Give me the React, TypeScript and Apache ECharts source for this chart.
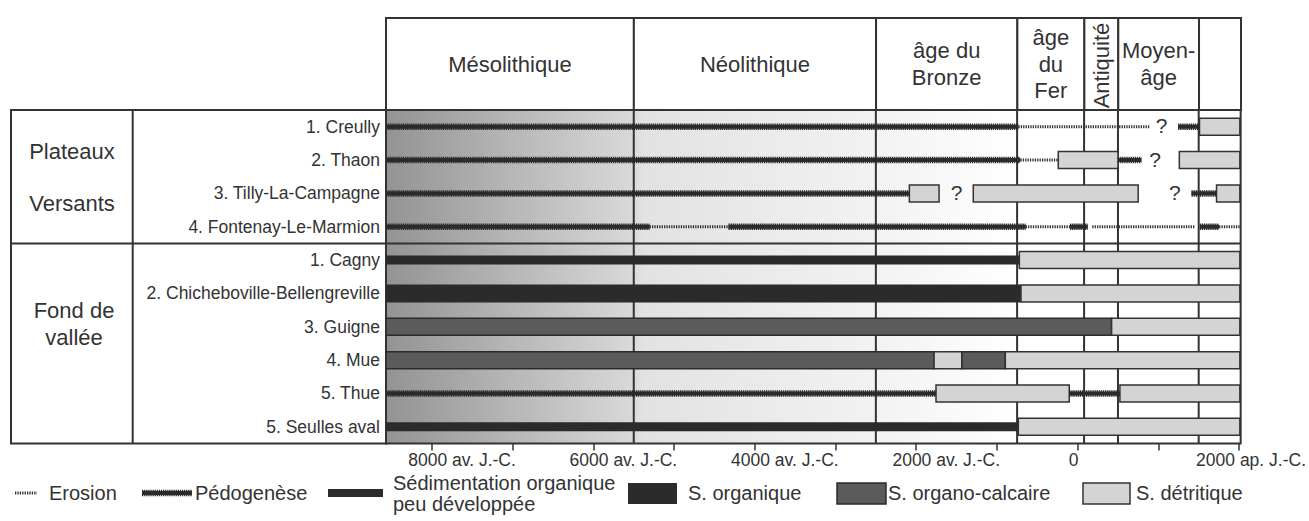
import React, { useEffect, useRef } from "react";
import * as echarts from "echarts";

// ---------- data ----------
const sites = [
  "1. Creully",
  "2. Thaon",
  "3. Tilly-La-Campagne",
  "4. Fontenay-Le-Marmion",
  "1. Cagny",
  "2. Chicheboville-Bellengreville",
  "3. Guigne",
  "4. Mue",
  "5. Thue",
  "5. Seulles aval",
];
const sectionBreaks = ["4. Fontenay-Le-Marmion"];
const groupLabels = ["Plateaux", "Versants", "Fond de\nvallée"];

const periodNames = ["Mésolithique", "Néolithique", "âge du\nBronze", "âge\ndu\nFer", "Antiquité", "Moyen-\nâge", ""];
const periodStarts = [-8570, -5500, -2500, -750, 80, 500, 1500];
const verticalPeriods = ["Antiquité"];
const axisMin = -8570;
const axisMax = 2020;

const tickYears = [-8000, -7000, -6000, -5000, -4000, -3000, -2000, -1000, 0, 1000, 2000];
const labelYears = [-8000, -6000, -4000, -2000, 0, 2000];
const tickLabels = ["8000 av. J.-C.", "6000 av. J.-C.", "4000 av. J.-C.", "2000 av. J.-C.", "0", "2000 ap. J.-C."];

type Seg = [string, number, number];
const erosionSegments: Seg[] = [
  ["1. Creully", -735, 900],
  ["2. Thaon", -710, -240],
  ["4. Fontenay-Le-Marmion", -5304, -4326],
  ["4. Fontenay-Le-Marmion", -644, -95],
  ["4. Fontenay-Le-Marmion", 181, 1452],
  ["4. Fontenay-Le-Marmion", 1753, 2010],
];
const pedogeneseSegments: Seg[] = [
  ["1. Creully", -8570, -735],
  ["1. Creully", 1245, 1510],
  ["2. Thaon", -8570, -710],
  ["2. Thaon", 500, 790],
  ["3. Tilly-La-Campagne", -8570, -2085],
  ["3. Tilly-La-Campagne", 1411, 1721],
  ["4. Fontenay-Le-Marmion", -8570, -5304],
  ["4. Fontenay-Le-Marmion", -4326, -644],
  ["4. Fontenay-Le-Marmion", -95, 124],
  ["4. Fontenay-Le-Marmion", 1514, 1753],
  ["5. Thue", -8570, -1755],
  ["5. Thue", -104, 524],
];
const sedOrgThinSegments: Seg[] = [
  ["1. Cagny", -8570, -722],
  ["5. Seulles aval", -8570, -735],
];
const sedOrgSegments: Seg[] = [["2. Chicheboville-Bellengreville", -8570, -702]];
const sedOrgCalcSegments: Seg[] = [
  ["3. Guigne", -8570, 421],
  ["4. Mue", -8570, -1779],
  ["4. Mue", -1436, -896],
];
const sedDetrSegments: Seg[] = [
  ["1. Creully", 1510, 2010],
  ["2. Thaon", -240, 500],
  ["2. Thaon", 1260, 2010],
  ["3. Tilly-La-Campagne", -2085, -1717],
  ["3. Tilly-La-Campagne", -1293, 750],
  ["3. Tilly-La-Campagne", 1721, 2010],
  ["1. Cagny", -722, 2010],
  ["2. Chicheboville-Bellengreville", -702, 2010],
  ["3. Guigne", 421, 2010],
  ["4. Mue", -1779, -1436],
  ["4. Mue", -896, 2010],
  ["5. Thue", -1755, -104],
  ["5. Thue", 524, 2010],
  ["5. Seulles aval", -735, 2010],
];
const questionMarks: [string, number][] = [
  ["1. Creully", 1040],
  ["2. Thaon", 960],
  ["3. Tilly-La-Campagne", -1500],
  ["3. Tilly-La-Campagne", 1205],
];
const questionText = "?";
const legendLabels = [
  "Erosion",
  "Pédogenèse",
  "Sédimentation organique\npeu développée",
  "S. organique",
  "S. organo-calcaire",
  "S. détritique",
];

// ---------- styles / layout ----------
const FONT = '"Liberation Sans", Arial, Helvetica, sans-serif';
const INK = "#333333";
const DARK = "#2b2b2b";
const CALC = "#5b5b5b";
const DETR = "#d4d4d4";
const GRID_LEFT = 386;
const GRID_W = 855;
const HEAD_TOP = 18;
const HEAD_H = 92;
const PLOT_TOP = 110;
const PLOT_H = 333.5;
const TABLE_LEFT = 11;
const TABLE_SPLIT = 132.7;
const LEG_Y = 493;

const idx = (s: string) => sites.indexOf(s);
const toData = (arr: Seg[]) => arr.map(([s, a, b]) => [idx(s), a, b]);

function rectRenderer(h: number, style: any) {
  return (params: any, api: any) => {
    const r = api.value(0);
    const p1 = api.coord([api.value(1), r]);
    const p2 = api.coord([api.value(2), r]);
    return {
      type: "rect",
      shape: { x: p1[0], y: p1[1] - h / 2, width: p2[0] - p1[0], height: h },
      style,
    };
  };
}

function pedoShapes(x1: number, x2: number, y: number) {
  return [
    { type: "line", shape: { x1, y1: y, x2, y2: y }, style: { stroke: DARK, lineWidth: 4 } },
    {
      type: "line",
      shape: { x1, y1: y, x2, y2: y },
      style: { stroke: DARK, lineWidth: 6.5, lineDash: [1.3, 0.8] },
    },
  ];
}

function buildOption(): any {
  const dividerY =
    PLOT_TOP + (PLOT_H * (idx(sectionBreaks[0]) + 1)) / sites.length;
  const periodEnds = periodStarts.slice(1).concat([axisMax]);

  const legend: any[] = [];
  legend.push({
    type: "line",
    shape: { x1: 15, y1: LEG_Y, x2: 37, y2: LEG_Y },
    style: { stroke: "#333", lineWidth: 3, lineDash: [1.3, 1.1] },
  });
  legend.push({ type: "text", x: 49, y: LEG_Y, style: { text: legendLabels[0], fontSize: 20, fontFamily: FONT, fill: INK, verticalAlign: "middle" } });
  legend.push(...pedoShapes(142, 192, LEG_Y));
  legend.push({ type: "text", x: 195, y: LEG_Y, style: { text: legendLabels[1], fontSize: 20, fontFamily: FONT, fill: INK, verticalAlign: "middle" } });
  legend.push({ type: "rect", shape: { x: 328, y: LEG_Y - 4, width: 55, height: 8 }, style: { fill: DARK } });
  legend.push({ type: "text", x: 393, y: LEG_Y, style: { text: legendLabels[2], fontSize: 20, lineHeight: 21, fontFamily: FONT, fill: INK, verticalAlign: "middle" } });
  legend.push({ type: "rect", shape: { x: 628, y: LEG_Y - 10, width: 49, height: 21 }, style: { fill: DARK } });
  legend.push({ type: "text", x: 688, y: LEG_Y, style: { text: legendLabels[3], fontSize: 20, fontFamily: FONT, fill: INK, verticalAlign: "middle" } });
  legend.push({ type: "rect", shape: { x: 837, y: LEG_Y - 10, width: 49, height: 21 }, style: { fill: CALC, stroke: DARK, lineWidth: 1.5 } });
  legend.push({ type: "text", x: 888, y: LEG_Y, style: { text: legendLabels[4], fontSize: 20, fontFamily: FONT, fill: INK, verticalAlign: "middle" } });
  legend.push({ type: "rect", shape: { x: 1083, y: LEG_Y - 10, width: 47, height: 21 }, style: { fill: DETR, stroke: INK, lineWidth: 1.5 } });
  legend.push({ type: "text", x: 1136, y: LEG_Y, style: { text: legendLabels[5], fontSize: 20, fontFamily: FONT, fill: INK, verticalAlign: "middle" } });

  const table: any[] = [
    { type: "rect", shape: { x: TABLE_LEFT, y: PLOT_TOP, width: GRID_LEFT - TABLE_LEFT, height: PLOT_H }, style: { fill: "none", stroke: INK, lineWidth: 2 } },
    { type: "line", shape: { x1: TABLE_SPLIT, y1: PLOT_TOP, x2: TABLE_SPLIT, y2: PLOT_TOP + PLOT_H }, style: { stroke: INK, lineWidth: 2 } },
    { type: "line", shape: { x1: TABLE_LEFT, y1: dividerY, x2: GRID_LEFT, y2: dividerY }, style: { stroke: INK, lineWidth: 2 } },
    { type: "text", x: 72, y: 151, style: { text: groupLabels[0], fontSize: 22, fontFamily: FONT, fill: INK, align: "center", verticalAlign: "middle" } },
    { type: "text", x: 72, y: 203, style: { text: groupLabels[1], fontSize: 22, fontFamily: FONT, fill: INK, align: "center", verticalAlign: "middle" } },
    { type: "text", x: 74, y: 324, style: { text: groupLabels[2], fontSize: 22, lineHeight: 26.6, fontFamily: FONT, fill: INK, align: "center", verticalAlign: "middle" } },
  ];

  const rich = {
    av: { fontSize: 17.5, fontFamily: FONT, color: INK, padding: [0, 0, 0, 60] },
    zero: { fontSize: 17.5, fontFamily: FONT, color: INK, padding: [0, 8, 0, 0] },
    ap: { fontSize: 17.5, fontFamily: FONT, color: INK, padding: [0, 0, 0, 24] },
  };

  return {
    animation: false,
    backgroundColor: "#ffffff",
    textStyle: { fontFamily: FONT },
    grid: [
      { left: GRID_LEFT, top: HEAD_TOP, width: GRID_W, height: HEAD_H, show: false },
      {
        left: GRID_LEFT,
        top: PLOT_TOP,
        width: GRID_W,
        height: PLOT_H,
        show: true,
        borderColor: INK,
        borderWidth: 2,
        backgroundColor: new echarts.graphic.LinearGradient(0, 0, 1, 0, [
          { offset: 0, color: "#939393" },
          { offset: 0.29, color: "#d9d9d9" },
          { offset: 0.3, color: "#e2e2e2" },
          { offset: 0.571, color: "#f2f2f2" },
          { offset: 0.74, color: "#ffffff" },
          { offset: 1, color: "#ffffff" },
        ]),
      },
    ],
    xAxis: [
      { gridIndex: 0, type: "value", min: axisMin, max: axisMax, show: false },
      {
        gridIndex: 1,
        type: "value",
        min: axisMin,
        max: axisMax,
        axisLine: { show: false },
        splitLine: { show: false },
        axisTick: {
          show: true,
          customValues: tickYears,
          length: 7,
          lineStyle: { color: INK, width: 1.5 },
        },
        axisLabel: {
          customValues: labelYears,
          margin: 7,
          color: INK,
          fontSize: 17.5,
          fontFamily: FONT,
          formatter: (v: number) => {
            const i = labelYears.indexOf(v);
            if (i < 0) return "";
            const k = v < 0 ? "av" : v === 0 ? "zero" : "ap";
            return `{${k}|${tickLabels[i]}}`;
          },
          rich,
        },
      },
    ],
    yAxis: [
      { gridIndex: 0, type: "value", min: 0, max: 1, show: false },
      {
        gridIndex: 1,
        type: "category",
        data: sites,
        inverse: true,
        axisLine: { show: false },
        axisTick: { show: false },
        splitLine: { show: false },
        axisLabel: { color: INK, fontSize: 17.5, fontFamily: FONT, margin: 6 },
      },
    ],
    graphic: { elements: [...table, ...legend] },
    series: [
      {
        name: "périodes",
        type: "custom",
        xAxisIndex: 0,
        yAxisIndex: 0,
        encode: { x: [0, 1], y: 3 },
        data: periodStarts.map((s, i) => [s, periodEnds[i], i, 0.5]),
        renderItem: (params: any, api: any) => {
          const cs = params.coordSys;
          const x1 = api.coord([api.value(0), 0])[0];
          const x2 = api.coord([api.value(1), 0])[0];
          const name = periodNames[api.value(2)];
          const vertical = verticalPeriods.indexOf(name) >= 0;
          return {
            type: "group",
            children: [
              { type: "rect", shape: { x: x1, y: cs.y, width: x2 - x1, height: cs.height }, style: { fill: "#fff", stroke: INK, lineWidth: 2 } },
              {
                type: "text",
                x: (x1 + x2) / 2,
                y: cs.y + cs.height / 2 + (vertical ? 1.5 : 0),
                rotation: vertical ? Math.PI / 2 : 0,
                style: { text: name, fontSize: 22, lineHeight: 26.7, fontFamily: FONT, fill: INK, align: "center", verticalAlign: "middle" },
              },
            ],
          };
        },
      },
      {
        name: "limites",
        type: "custom",
        xAxisIndex: 1,
        yAxisIndex: 1,
        encode: { x: 0, y: 1 },
        data: periodStarts.slice(1).map((v) => [v, 0]),
        renderItem: (params: any, api: any) => {
          const cs = params.coordSys;
          const x = api.coord([api.value(0), 0])[0];
          return { type: "line", shape: { x1: x, y1: cs.y, x2: x, y2: cs.y + cs.height }, style: { stroke: INK, lineWidth: 2 } };
        },
      },
      {
        name: "sections",
        type: "custom",
        xAxisIndex: 1,
        yAxisIndex: 1,
        encode: { x: 0, y: 1 },
        data: sectionBreaks.map((s) => [axisMin, idx(s)]),
        renderItem: (params: any, api: any) => {
          const cs = params.coordSys;
          const i = api.value(1);
          const y = (api.coord([axisMin, i])[1] + api.coord([axisMin, i + 1])[1]) / 2;
          return { type: "line", shape: { x1: cs.x, y1: y, x2: cs.x + cs.width, y2: y }, style: { stroke: INK, lineWidth: 2 } };
        },
      },
      {
        name: "S. organique peu développée",
        type: "custom",
        xAxisIndex: 1,
        yAxisIndex: 1,
        encode: { x: [1, 2], y: 0 },
        data: toData(sedOrgThinSegments),
        renderItem: rectRenderer(9, { fill: DARK }),
      },
      {
        name: "S. organique",
        type: "custom",
        xAxisIndex: 1,
        yAxisIndex: 1,
        encode: { x: [1, 2], y: 0 },
        data: toData(sedOrgSegments),
        renderItem: rectRenderer(18, { fill: DARK }),
      },
      {
        name: "S. organo-calcaire",
        type: "custom",
        xAxisIndex: 1,
        yAxisIndex: 1,
        encode: { x: [1, 2], y: 0 },
        data: toData(sedOrgCalcSegments),
        renderItem: rectRenderer(17, { fill: CALC, stroke: DARK, lineWidth: 1.5 }),
      },
      {
        name: "S. détritique",
        type: "custom",
        xAxisIndex: 1,
        yAxisIndex: 1,
        encode: { x: [1, 2], y: 0 },
        data: toData(sedDetrSegments),
        renderItem: rectRenderer(17, { fill: DETR, stroke: INK, lineWidth: 1.5 }),
      },
      {
        name: "Erosion",
        type: "custom",
        xAxisIndex: 1,
        yAxisIndex: 1,
        encode: { x: [1, 2], y: 0 },
        data: toData(erosionSegments),
        renderItem: (params: any, api: any) => {
          const r = api.value(0);
          const p1 = api.coord([api.value(1), r]);
          const p2 = api.coord([api.value(2), r]);
          return {
            type: "line",
            shape: { x1: p1[0], y1: p1[1], x2: p2[0], y2: p2[1] },
            style: { stroke: "#333", lineWidth: 3, lineDash: [1.3, 1.1] },
          };
        },
      },
      {
        name: "Pédogenèse",
        type: "custom",
        xAxisIndex: 1,
        yAxisIndex: 1,
        encode: { x: [1, 2], y: 0 },
        data: toData(pedogeneseSegments),
        renderItem: (params: any, api: any) => {
          const r = api.value(0);
          const p1 = api.coord([api.value(1), r]);
          const p2 = api.coord([api.value(2), r]);
          return { type: "group", children: pedoShapes(p1[0], p2[0], p1[1]) };
        },
      },
      {
        name: "incertitudes",
        type: "custom",
        xAxisIndex: 1,
        yAxisIndex: 1,
        encode: { x: 1, y: 0 },
        data: questionMarks.map(([s, v]) => [idx(s), v]),
        renderItem: (params: any, api: any) => {
          const p = api.coord([api.value(1), api.value(0)]);
          return {
            type: "text",
            x: p[0],
            y: p[1] - 1,
            style: { text: questionText, fontSize: 21, fontFamily: FONT, fill: INK, align: "center", verticalAlign: "middle" },
          };
        },
      },
    ],
  };
}

export default function App() {
  const ref = useRef<HTMLDivElement>(null);
  useEffect(() => {
    if (!ref.current) return;
    const chart = echarts.init(ref.current, null, { renderer: "svg" });
    chart.setOption(buildOption());
    return () => chart.dispose();
  }, []);
  return (
    <div
      ref={ref}
      style={{ position: "fixed", left: 0, top: 0, width: 1309, height: 521, background: "#fff" }}
    />
  );
}
